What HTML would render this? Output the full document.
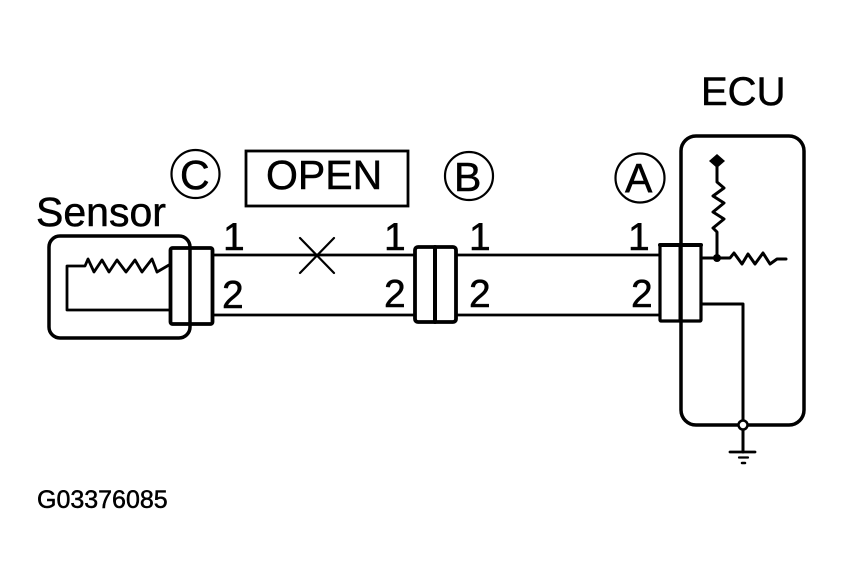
<!DOCTYPE html>
<html>
<head>
<meta charset="utf-8">
<style>
html,body{margin:0;padding:0;background:#fff;}
svg{display:block;}
text{font-family:"Liberation Sans",sans-serif;fill:#000;stroke:#000;stroke-width:0.5px;}
</style>
</head>
<body>
<svg width="843" height="584" viewBox="0 0 843 584" xmlns="http://www.w3.org/2000/svg">
<rect width="843" height="584" fill="#fff"/>
<g fill="none" stroke="#000" stroke-linejoin="round" stroke-linecap="round">
  <!-- Sensor box -->
  <rect x="49" y="236" width="141" height="102" rx="11" stroke-width="3.5"/>
  <!-- ECU box -->
  <rect x="681" y="136" width="123" height="289" rx="15" stroke-width="3.5"/>
  <!-- Wires -->
  <path d="M213 255H414M213 315H414M457 255H659M457 315H659" stroke-width="2.8"/>
  <path d="M300 238L334 273M300 273L334 238" stroke-width="2.2"/>
  <!-- Sensor resistor -->
  <path d="M169 265L157 272L152 259L142 272L135 260L126 272L117 260L109 272L102 260L94 272L88 259L85 266H67V310H169" stroke-width="2.8"/>
  <!-- Connector C -->
  <rect x="170.500" y="248" width="42" height="76" rx="2" stroke-width="3.800"/>
  <!-- Connector B -->
  <rect x="415" y="247" width="41" height="75" rx="3" stroke-width="3.800"/>
  <path d="M435 247V322" stroke-width="4"/>
  <!-- Connector A -->
  <rect x="660" y="245" width="41" height="76" rx="1" stroke-width="3.200"/>
  <path d="M680 245V321" stroke-width="3"/>
  <path d="M660 245H701" stroke-width="4"/>
  <!-- ECU internals -->
  <path d="M717 167V182L724 188L713 196L724 203L713 212L724 219L713 228L717 232V258" stroke-width="3"/>
  <path d="M702 258H730L734 253L742 264L748 254L755 264L763 253L770 264L777 259H786" stroke-width="3"/>
  <path d="M702 304H743V421" stroke-width="3"/>
  <!-- Ground -->
  <path d="M743 429V452" stroke-width="3"/>
  <path d="M730 452H755" stroke-width="2.800"/>
  <path d="M739 457.500H748" stroke-width="2.200"/>
  <path d="M742 463H745" stroke-width="2.500"/>
  <!-- Open box -->
  <rect x="246" y="151" width="162" height="55" stroke-width="2.800" stroke-linejoin="miter"/>
  <!-- Circles -->
  <circle cx="195.500" cy="174" r="24" stroke-width="2.200"/>
  <circle cx="469" cy="176" r="24" stroke-width="2.200"/>
  <circle cx="640" cy="178" r="24.500" stroke-width="2.200"/>
</g>
<!-- Junctions -->
<circle cx="717" cy="258" r="4" fill="#000"/>
<path d="M717 154L725 161L717 168L709 161Z" fill="#000"/>
<circle cx="743" cy="425" r="4.500" fill="#fff" stroke="#000" stroke-width="2.500"/>

<!-- Labels -->
<text x="36" y="226" font-size="41">Sensor</text>
<text x="701" y="105" font-size="40">ECU</text>
<text x="266" y="189" font-size="41">OPEN</text>
<text x="180" y="189" font-size="41">C</text>
<text x="454" y="191" font-size="41">B</text>
<text x="625" y="192" font-size="41">A</text>
<text x="223" y="250" font-size="39">1</text>
<text x="222" y="308" font-size="39">2</text>
<text x="384" y="250" font-size="39">1</text>
<text x="384" y="307" font-size="39">2</text>
<text x="469" y="250" font-size="39">1</text>
<text x="469" y="307" font-size="39">2</text>
<text x="628" y="250" font-size="39">1</text>
<text x="631" y="307" font-size="39">2</text>
<text x="37" y="508" font-size="25">G03376085</text>
</svg>
</body>
</html>
